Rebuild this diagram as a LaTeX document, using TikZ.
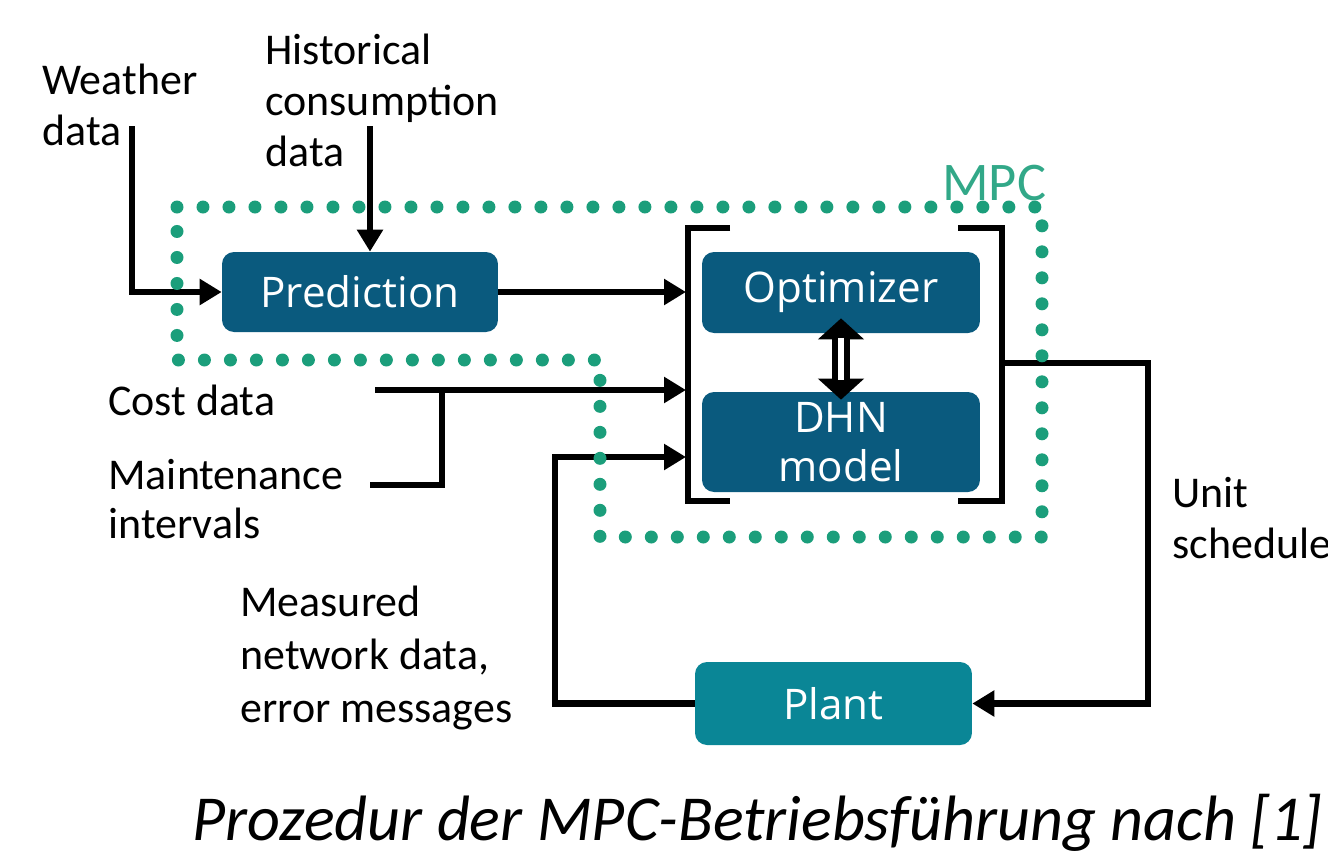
\documentclass[tikz,border=0pt]{standalone}
\usepackage{fontspec}
\setmainfont{Carlito}
\newfontfamily\boxfont{Open Sans}
\usetikzlibrary{arrows.meta}
\definecolor{mpcblue}{HTML}{0A5A7E}
\definecolor{mpcteal}{HTML}{0A8696}
\definecolor{mpcgreen}{HTML}{1B9E7B}

\begin{document}
\begin{tikzpicture}[x=0.02cm, y=-0.02cm,
    blk/.style={rounded corners=0.24cm, fill=mpcblue, text=white, align=center, inner sep=0pt,
      font=\boxfont\fontsize{24}{27.5}\selectfont, minimum width=5.52cm, minimum height=1.6cm},
    lbl/.style={anchor=base west, align=left, inner sep=0pt, font=\fontsize{25}{28.8}\selectfont},
    wire/.style={line width=0.13cm},
    conn/.style={wire, -{Triangle[length=0.44cm,width=0.5cm]}},
    dots/.style={mpcgreen, line width=0.26cm, line cap=round, dash pattern=on 0pt off 0.52cm}]
  \useasboundingbox (0,0) rectangle (1328,850);

  \node[blk] (pred) at (360,292) {Prediction};
  \node[blk, minimum width=5.56cm, minimum height=1.62cm] (opt) at (841,292.5) {Optimizer};
  \node[blk, minimum width=5.56cm, minimum height=2cm] (dhn) at (841,442) {DHN\\model};
  \node[blk, fill=mpcteal, minimum width=5.54cm, minimum height=1.66cm] (plant) at (833.5,703.5) {Plant};

  \node[lbl] (wthrtxt) at (42,145) {Weather\\data};
  \node[lbl] (histtxt) at (265,166) {Historical\\consumption\\data};
  \node[lbl] (costtxt) at (108,415) {Cost data};
  \node[lbl, font=\fontsize{25}{27.4}\selectfont] (mainttxt) at (108,538) {Maintenance\\intervals};
  \node[lbl, font=\fontsize{25}{30}\selectfont] (meastxt) at (240,722) {Measured\\network data,\\error messages};
  \node[lbl] (unittxt) at (1172,558) {Unit\\schedule};
  \node[lbl, font=\itshape\fontsize{36.5}{40}\selectfont] (caption) at (192,840) {Prozedur der MPC-Betriebsführung nach [1]};
  \node[lbl, font=\fontsize{31}{31}\selectfont, text=mpcgreen!90!white] (mpctxt) at (942,200) {MPC};

  \coordinate (wthr) at (132,126);
  \coordinate (hist) at (370,126);
  \coordinate (brkl) at (686,0);
  \coordinate (cost) at (375,390);
  \coordinate (maint) at (370,485);
  \coordinate (mjoin) at (442,390);
  \coordinate (fb) at (555,457);
  \coordinate (brkout) at (1002,363);
  \coordinate (sched) at (1148,703.5);

  \draw[wire] (730,228) -- (688,228) -- (688,501) -- (730,501);
  \draw[wire] (958,228) -- (1002,228) -- (1002,501) -- (958,501);

  \draw[conn] (wthr) |- (pred.west);
  \draw[conn] (hist) -- (hist |- pred.north);
  \draw[conn] (pred.east) -- (pred.east -| brkl);
  \draw[conn] (cost) -- (cost -| brkl);
  \draw[wire] (maint) -| (mjoin);
  \draw[conn] (plant.west) -| (fb) -- (fb -| brkl);
  \draw[conn] (brkout) -| (sched) -- (plant.east);

  \draw[line width=0.36cm, {Triangle[length=0.42cm,width=0.9cm]}-{Triangle[length=0.42cm,width=0.9cm]},
    shorten <=-0.3cm, shorten >=-0.16cm] (opt.south) -- (dhn.north);
  \draw[white, line width=0.13cm, shorten <=0.09cm, shorten >=0.24cm] (opt.south) -- (dhn.north);

  \draw[dots] (177,207) -- (1042,207) -- (1042,537) -- (600,537) -- (600,360) -- (177,360) -- cycle;
\end{tikzpicture}
\end{document}
